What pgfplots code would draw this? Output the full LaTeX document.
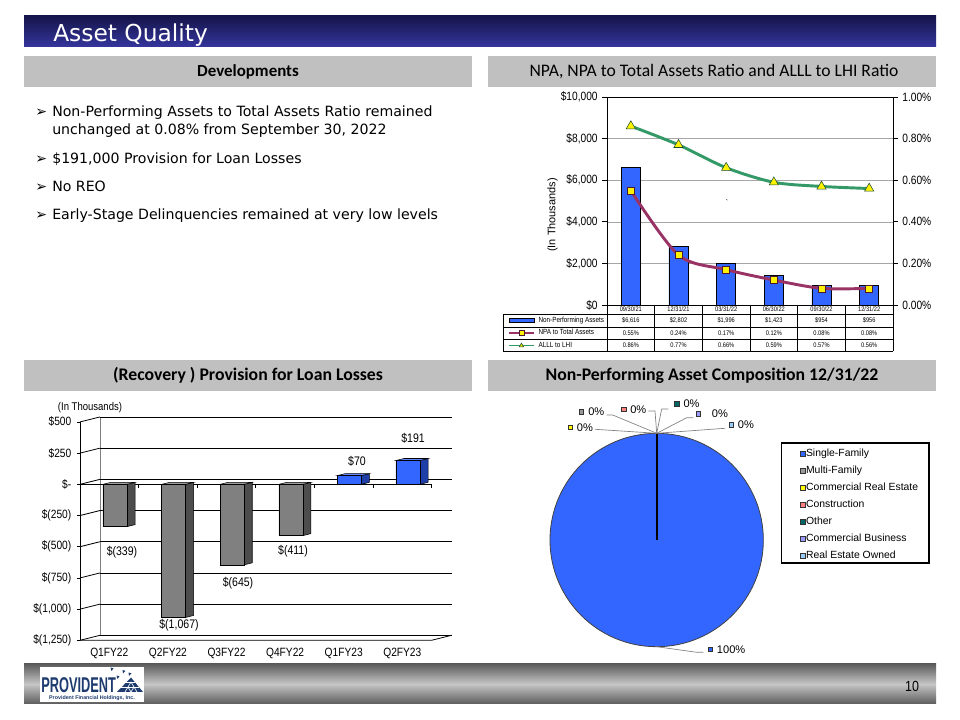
\documentclass[border=0pt]{standalone}
\usepackage{pgfplots}
\pgfplotsset{compat=1.18}
\usepackage{fontspec}
\setmainfont{Liberation Sans}
\newfontfamily\tahoma{DejaVu Sans}
\newfontfamily\calibri{Carlito}
\newfontfamily\arial{Liberation Sans}
\newfontfamily\arialn[FakeStretch=0.85]{Liberation Sans}
\newfontfamily\logofont[FakeStretch=0.6]{Liberation Sans}
\newcommand\fs[1]{\fontsize{#1}{#1}\selectfont}

\definecolor{navytop}{HTML}{15154A}
\definecolor{navybot}{HTML}{35359E}
\definecolor{boxgray}{HTML}{C0C0C0}
\definecolor{npablue}{HTML}{3366FF}
\definecolor{npapurple}{HTML}{993366}
\definecolor{allgreen}{HTML}{339966}
\definecolor{bargray}{HTML}{808080}
\definecolor{barsidegray}{HTML}{4D4D4D}
\definecolor{bartopgray}{HTML}{A0A0A0}
\definecolor{barsideblue}{HTML}{1F3FA8}
\definecolor{bartopblue}{HTML}{6688FF}
\definecolor{footdark}{HTML}{5C5C5C}
\definecolor{footlight}{HTML}{C6C6C6}
\definecolor{logonavy}{HTML}{1D3B6F}
\definecolor{pmulti}{HTML}{999999}
\definecolor{pcre}{HTML}{FFFF00}
\definecolor{pcons}{HTML}{FF8080}
\definecolor{pother}{HTML}{006666}
\definecolor{pcb}{HTML}{9999FF}
\definecolor{preo}{HTML}{99CCFF}
\definecolor{leader}{HTML}{808080}

\begin{document}
\begin{tikzpicture}
% page is 960 x 720 px; in the scopes 1 unit = 1 px, y counted from the bottom
\begin{scope}[x=0.75pt,y=0.75pt]
\fill[white] (0,0) rectangle (960,720);

% title bar
\shade[top color=navytop,bottom color=navybot] (24,720-16) rectangle (936,720-47);
\node[anchor=base west,text=white,inner sep=0,font=\tahoma\fs{17.5pt}] at (53,720-41.7) {Asset Quality};

% section headers
\fill[boxgray] (24,720-56) rectangle (472,720-87);
\fill[boxgray] (488,720-56) rectangle (936,720-87);
\fill[boxgray] (24,720-360) rectangle (472,720-391);
\fill[boxgray] (488,720-360) rectangle (936,720-391);
\node[font=\calibri\bfseries\fs{12.7pt}] at (248,720-71.5) {Developments};
\node[font=\calibri\fs{13.2pt}] at (714,720-71.5) {NPA, NPA to Total Assets Ratio and ALLL to LHI Ratio};
\node[font=\calibri\bfseries\fs{13.3pt}] at (248,720-375.5) {(Recovery ) Provision for Loan Losses};
\node[font=\calibri\bfseries\fs{13.3pt}] at (712,720-375.5) {Non-Performing Asset Composition 12/31/22};

% bullets
\begin{scope}[every node/.style={anchor=base west,inner sep=0,font=\tahoma\fs{10.6pt}}]
  \node at (35,720-116.7) {➢};
  \node at (52,720-116.7) {Non-Performing Assets to Total Assets Ratio remained};
  \node at (52,720-134.3) {unchanged at 0.08\% from September 30, 2022};
  \node at (35,720-163.3) {➢};
  \node at (52,720-163.3) {\$191,000 Provision for Loan Losses};
  \node at (35,720-191.7) {➢};
  \node at (52,720-191.7) {No REO};
  \node at (35,720-220) {➢};
  \node at (52,720-220) {Early-Stage Delinquencies remained at very low levels};
\end{scope}
\end{scope}

%% ---------- NPA chart ----------
\begin{axis}[
  at={(455.25pt,311.25pt)}, anchor=south west, scale only axis,
  width=214.5pt, height=156pt,
  xmin=-0.5, xmax=5.5, ymin=0, ymax=10000,
  axis x line*=bottom, axis y line*=left,
  axis line style={line width=0.6pt},
  xtick=\empty, scaled y ticks=false,
  ytick={0,2000,4000,6000,8000,10000},
  yticklabels={\$0,{\$2,000},{\$4,000},{\$6,000},{\$8,000},{\$10,000}},
  yticklabel style={font=\arialn\fs{9pt}},
  ymajorgrids, grid style={black!35},
  tick align=outside, major tick length=3.5pt,
  tick style={black, line width=0.6pt},
]
\addplot[ybar, bar width=0.4, bar shift=0pt, fill=npablue, draw=black, line width=0.5pt]
  coordinates {(0,6616) (1,2802) (2,1996) (3,1423) (4,954) (5,956)};
\draw[black, line width=0.6pt] (rel axis cs:0,1) -- (rel axis cs:1,1);
\end{axis}

\begin{axis}[
  at={(455.25pt,311.25pt)}, anchor=south west, scale only axis,
  width=214.5pt, height=156pt,
  xmin=-0.5, xmax=5.5, ymin=0, ymax=1,
  axis x line=none, axis y line*=right, scaled y ticks=false,
  axis line style={line width=0.6pt},
  ytick={0,0.2,0.4,0.6,0.8,1},
  yticklabels={0.00\%,0.20\%,0.40\%,0.60\%,0.80\%,1.00\%},
  yticklabel style={font=\arialn\fs{9pt}},
  tick align=outside, major tick length=3.5pt,
  tick style={black, line width=0.6pt},
  legend style={at={(rel axis cs:-0.346,-0.0433)}, anchor=north west,
    draw=none, fill=none, inner xsep=0pt, inner ysep=2.3pt, row sep=4.6pt,
    font=\arialn\fs{5.6pt},
    nodes={inner xsep=3pt, inner ysep=0pt, text height=3.8pt, text depth=1pt}},
  legend cell align=left,
  legend image code/.code={\draw[mark repeat=2,mark phase=2,#1,line width=0.9pt,mark size=1.8pt]
    plot coordinates {(0pt,0pt) (9.4pt,0pt) (18.75pt,0pt)};},
]
\addlegendimage{legend image code/.code={\draw[fill=npablue,draw=black,line width=0.4pt] (0pt,-1.6pt) rectangle (18.75pt,1.6pt);}}
\addlegendentry{Non-Performing Assets}
\addplot[npapurple, line width=2.2pt, smooth, mark=square*, mark size=2.6pt,
  mark options={fill=yellow, draw=npapurple!50!black, line width=0.4pt}]
  coordinates {(0,0.55) (1,0.24) (2,0.17) (3,0.12) (4,0.08) (5,0.08)};
\addlegendentry{NPA to Total Assets}
\addplot[allgreen, line width=2.2pt, smooth, mark=triangle*, mark size=4pt,
  mark options={fill=yellow, draw=allgreen!50!black, line width=0.4pt}]
  coordinates {(0,0.86) (1,0.77) (2,0.66) (3,0.59) (4,0.57) (5,0.56)};
\addlegendentry{ALLL to LHI}
\end{axis}

\begin{scope}[x=0.75pt,y=0.75pt]
\node[rotate=90,font=\arial\fs{8.2pt}] at (552.5,720-215) {(In Thousands)};
\node[font=\arial\fs{6pt}] at (727,720-203) {\textasciigrave};

% data table under the NPA chart
\begin{scope}[line width=0.5pt]
  \draw (607,720-305) -- (607,720-351);
  \foreach \k in {1,...,6} \draw ({607+47.667*\k},720-305) -- ({607+47.667*\k},720-351);
  \draw (503,720-314) -- (893,720-314);
  \draw (503,720-327) -- (893,720-327);
  \draw (503,720-339) -- (893,720-339);
  \draw (503,720-351) -- (893,720-351);
  \draw (503,720-314) -- (503,720-351);
\end{scope}
\begin{scope}[every node/.style={inner sep=0,font=\arialn\fs{5pt}}]
  \foreach \d [count=\i] in {09/30/21,12/31/21,03/31/22,06/30/22,09/30/22,12/31/22}
    \node at ({607+47.667*(\i-0.5)},720-309.5) {\d};
  \foreach \d [count=\i] in {{\$6,616},{\$2,802},{\$1,996},{\$1,423},\$954,\$956}
    \node at ({607+47.667*(\i-0.5)},720-320.5) {\d};
  \foreach \d [count=\i] in {0.55\%,0.24\%,0.17\%,0.12\%,0.08\%,0.08\%}
    \node at ({607+47.667*(\i-0.5)},720-333) {\d};
  \foreach \d [count=\i] in {0.86\%,0.77\%,0.66\%,0.59\%,0.57\%,0.56\%}
    \node at ({607+47.667*(\i-0.5)},720-345) {\d};
\end{scope}
\end{scope}

%% ---------- provision chart (3-D look) ----------
\begin{axis}[
  at={(60pt,59.775pt)}, anchor=south west, scale only axis,
  width=278.7pt, height=167.5pt,
  xmin=0, xmax=6.341, ymin=-1250, ymax=540,
  axis line style={draw=none}, tick style={draw=none},
  scaled y ticks=false,
  xtick={0.5,1.5,2.5,3.5,4.5,5.5},
  xticklabels={Q1FY22,Q2FY22,Q3FY22,Q4FY22,Q1FY23,Q2FY23},
  ytick={-1250,-1000,-750,-500,-250,0,250,500},
  yticklabels={{\$(1,250)},{\$(1,000)},\$(750),\$(500),\$(250),\$-,\$250,\$500},
  xticklabel style={font=\arialn\fs{9pt}, yshift=-2pt},
  yticklabel style={font=\arialn\fs{9pt}, xshift=-3pt},
  clip=false,
]
% back wall, side wall and floor
\draw[black!50, line width=0.6pt] (0.341,-1210) -- (0.341,540);
\draw[black, line width=0.6pt] (0.341,540) -- (6.341,540);
\draw[black, line width=0.6pt] (0.341,290) -- (6.341,290);
\draw[black, line width=0.6pt] (0.341,40) -- (6.341,40);
\draw[black, line width=0.6pt] (0.341,-210) -- (6.341,-210);
\draw[black, line width=0.6pt] (0.341,-460) -- (6.341,-460);
\draw[black, line width=0.6pt] (0.341,-710) -- (6.341,-710);
\draw[black, line width=0.6pt] (0.341,-960) -- (6.341,-960);
\draw[black, line width=0.6pt] (0.341,-1210) -- (6.341,-1210);
\draw[black, line width=0.6pt] (0,500) -- (0.341,540);
\draw[black, line width=0.6pt] (0,250) -- (0.341,290);
\draw[black, line width=0.6pt] (0,0) -- (0.341,40);
\draw[black, line width=0.6pt] (0,-250) -- (0.341,-210);
\draw[black, line width=0.6pt] (0,-500) -- (0.341,-460);
\draw[black, line width=0.6pt] (0,-750) -- (0.341,-710);
\draw[black, line width=0.6pt] (0,-1000) -- (0.341,-960);
\draw[black, line width=0.6pt] (0,-1250) -- (0.341,-1210);
\draw[black, line width=0.6pt] (0,-1250) -- (0,500);
\draw[black, line width=0.6pt] (-0.051,500) -- (0,500);
\draw[black, line width=0.6pt] (-0.051,250) -- (0,250);
\draw[black, line width=0.6pt] (-0.051,0) -- (0,0);
\draw[black, line width=0.6pt] (-0.051,-250) -- (0,-250);
\draw[black, line width=0.6pt] (-0.051,-500) -- (0,-500);
\draw[black, line width=0.6pt] (-0.051,-750) -- (0,-750);
\draw[black, line width=0.6pt] (-0.051,-1000) -- (0,-1000);
\draw[black, line width=0.6pt] (-0.051,-1250) -- (0,-1250);
\draw[black, line width=0.6pt] (0,-1250) -- (6,-1250) -- (6.341,-1210);
\draw[black, line width=0.6pt] (0,0) -- (6,0);
\draw[black, line width=0.6pt] (1,0) -- (1,-30) (2,0) -- (2,-30) (3,0) -- (3,-30)
  (4,0) -- (4,-30) (5,0) -- (5,-30) (6,0) -- (6,-30);
% side and top faces of the columns
\addplot[fill=barsidegray, draw=black, line width=0.4pt] coordinates {(0.802,0) (0.939,16) (0.939,-323) (0.802,-339)} --cycle;
\addplot[fill=bartopgray, draw=black, line width=0.4pt] coordinates {(0.392,0) (0.802,0) (0.939,16) (0.529,16)} --cycle;
\addplot[fill=barsidegray, draw=black, line width=0.4pt] coordinates {(1.802,0) (1.939,16) (1.939,-1051) (1.802,-1067)} --cycle;
\addplot[fill=bartopgray, draw=black, line width=0.4pt] coordinates {(1.392,0) (1.802,0) (1.939,16) (1.529,16)} --cycle;
\addplot[fill=barsidegray, draw=black, line width=0.4pt] coordinates {(2.802,0) (2.939,16) (2.939,-629) (2.802,-645)} --cycle;
\addplot[fill=bartopgray, draw=black, line width=0.4pt] coordinates {(2.392,0) (2.802,0) (2.939,16) (2.529,16)} --cycle;
\addplot[fill=barsidegray, draw=black, line width=0.4pt] coordinates {(3.802,0) (3.939,16) (3.939,-395) (3.802,-411)} --cycle;
\addplot[fill=bartopgray, draw=black, line width=0.4pt] coordinates {(3.392,0) (3.802,0) (3.939,16) (3.529,16)} --cycle;
\addplot[fill=barsideblue, draw=black, line width=0.4pt] coordinates {(4.802,0) (4.939,16) (4.939,86) (4.802,70)} --cycle;
\addplot[fill=bartopblue, draw=black, line width=0.4pt] coordinates {(4.392,70) (4.802,70) (4.939,86) (4.529,86)} --cycle;
\addplot[fill=barsideblue, draw=black, line width=0.4pt] coordinates {(5.802,0) (5.939,16) (5.939,207) (5.802,191)} --cycle;
\addplot[fill=bartopblue, draw=black, line width=0.4pt] coordinates {(5.392,191) (5.802,191) (5.939,207) (5.529,207)} --cycle;
% front faces
\addplot[ybar, bar width=0.41, bar shift=0pt, fill=bargray, draw=black, line width=0.4pt]
  coordinates {(0.597,-339) (1.597,-1067) (2.597,-645) (3.597,-411)};
\addplot[ybar, bar width=0.41, bar shift=0pt, fill=npablue, draw=black, line width=0.4pt]
  coordinates {(4.597,70) (5.597,191)};
\end{axis}

\begin{scope}[x=0.75pt,y=0.75pt]
\begin{scope}[every node/.style={font=\arialn\fs{9.3pt}}]
  \node at (122,720-552) {\$(339)};
  \node at (179,720-625) {\$(1,067)};
  \node at (238,720-583) {\$(645)};
  \node at (293,720-551) {\$(411)};
  \node at (357,720-461) {\$70};
  \node at (413,720-438) {\$191};
\end{scope}
\node[font=\arialn\fs{8.4pt}] at (90,720-407.5) {(In Thousands)};
\end{scope}

%% ---------- composition pie ----------
% Single-Family 100%, all other categories 0%
\begin{axis}[
  at={(412.5pt,54.975pt)}, anchor=south west, scale only axis,
  width=160pt, height=160pt,
  xmin=-1, xmax=1, ymin=-1, ymax=1,
  axis lines=none, xtick=\empty, ytick=\empty, clip=false,
  legend style={at={(rel axis cs:1.109,0.955)}, anchor=north west,
    draw=none, fill=none, font=\arial\fs{7.8pt},
    inner xsep=9.5pt, inner ysep=3pt, row sep=3.5pt,
    nodes={inner sep=0.8pt, text height=6pt, text depth=1.7pt}},
  legend cell align=left,
  legend image code/.code={\draw[#1,draw=black!80,line width=0.3pt] (0pt,-1.9pt) rectangle (3.8pt,1.9pt);},
]
\draw[fill=npablue, draw=black!75, line width=0.6pt] (0,0) circle[radius=1];
\draw[black, line width=1.3pt] (0,0) -- (0,1);
% legend frame, in the axis' own relative coordinates
\draw[black, line width=0.9pt] (rel axis cs:1.086,0.955) rectangle (rel axis cs:1.777,0.393);
\addlegendimage{fill=npablue}\addlegendentry{Single-Family}
\addlegendimage{fill=pmulti}\addlegendentry{Multi-Family}
\addlegendimage{fill=pcre}\addlegendentry{Commercial Real Estate}
\addlegendimage{fill=pcons}\addlegendentry{Construction}
\addlegendimage{fill=pother}\addlegendentry{Other}
\addlegendimage{fill=pcb}\addlegendentry{Commercial Business}
\addlegendimage{fill=preo}\addlegendentry{Real Estate Owned}
\end{axis}

\begin{scope}[x=0.75pt,y=0.75pt]
% pie labels and leader lines
\begin{scope}[leader, line width=0.5pt]
  \draw (595,720-429.3) -- (656.7,720-433.3);
  \draw (606.7,720-415) -- (612.7,720-415) -- (656.7,720-433.3);
  \draw (648.3,720-411) -- (655,720-411) -- (656.7,720-433.3);
  \draw (668.3,720-409) -- (661.7,720-409) -- (656.7,720-433.3);
  \draw (693.3,720-417.7) -- (686.7,720-417.7) -- (656.7,720-433.3);
  \draw (725,720-428.3) -- (656.7,720-433.3);
  \draw (656.7,720-646.7) -- (696.7,720-652.3) -- (703.3,720-652.3);
\end{scope}
\begin{scope}[every node/.style={anchor=west,inner sep=0,font=\arial\fs{8.3pt}}]
  \draw[fill=pcre,draw=black!80,line width=0.3pt] (567.7,720-425) rectangle (572.3,720-429.7);
  \node at (576.7,720-427.3) {0\%};
  \draw[fill=pmulti,draw=black!80,line width=0.3pt] (579,720-409.4) rectangle (583.6,720-414);
  \node at (588,720-411.7) {0\%};
  \draw[fill=pcons,draw=black!80,line width=0.3pt] (621.2,720-407) rectangle (625.8,720-411.6);
  \node at (630,720-409.3) {0\%};
  \draw[fill=pother,draw=black!80,line width=0.3pt] (674.2,720-401.7) rectangle (678.8,720-406.3);
  \node at (683.3,720-404) {0\%};
  \draw[fill=pcb,draw=black!80,line width=0.3pt] (695.7,720-411.7) rectangle (700.3,720-416.3);
  \node at (711.7,720-414) {0\%};
  \draw[fill=preo,draw=black!80,line width=0.3pt] (728.7,720-422.4) rectangle (733.3,720-427);
  \node at (737.7,720-424.7) {0\%};
  \draw[fill=npablue,draw=black!80,line width=0.3pt] (707.7,720-647) rectangle (712.3,720-651.6);
  \node at (716.7,720-649.3) {100\%};
\end{scope}

% legend frame again, on top of everything
\draw[black, line width=0.9pt] (781.7,720-443) rectangle (929.3,720-563);

%% ---------- footer ----------
\shade[top color=footdark,bottom color=footdark,middle color=footlight] (24,720-664) rectangle (936,720-704);
\fill[white] (40,720-667) rectangle (144,720-702);
\node[anchor=base west,inner sep=0,text=logonavy,font=\logofont\bfseries\fs{16pt}] at (41,720-693) {PROVIDENT};
\node[inner sep=0,text=logonavy,font=\arial\bfseries\fs{4pt}] at (92,720-698.5) {Provident Financial Holdings, Inc.};
\begin{scope}[logonavy]
  \fill (110.5,720-667.5) -- (113.5,720-668.5) -- (111.5,720-671) -- cycle;
  \fill (122.5,720-670) -- (125.5,720-671) -- (123,720-673.5) -- cycle;
  \fill (128.5,720-672.5) -- (131.5,720-673.5) -- (129,720-676) -- cycle;
  \fill (116.5,720-675.5) -- (119.5,720-676.5) -- (117.5,720-679) -- cycle;
  \fill (117,720-692) -- (143,720-692) -- (131,720-677.5) -- cycle;
\end{scope}
\begin{scope}[white, line width=0.5pt]
  \draw (121,720-687) -- (139,720-687);
  \draw (125,720-682) -- (135,720-682);
  \draw (125,720-692) -- (131,720-682) -- (137,720-692);
  \draw (128,720-687) -- (131,720-692) -- (134,720-687);
\end{scope}
\node[font=\arialn\fs{11pt}] at (912,720-686) {10};
\end{scope}
\end{tikzpicture}
\end{document}
